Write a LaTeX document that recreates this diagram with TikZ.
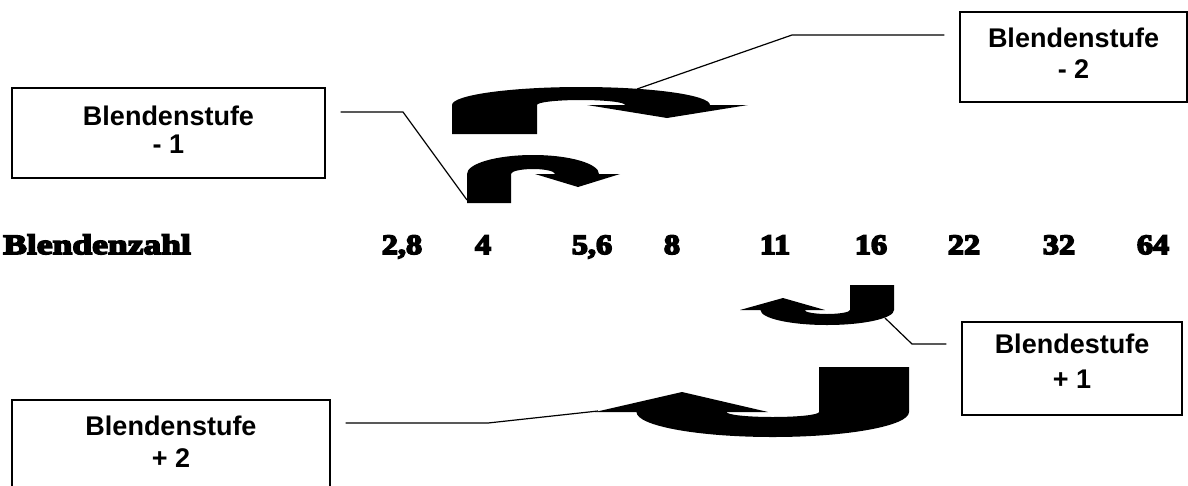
\documentclass[tikz,border=0pt]{standalone}
\usepackage{fontspec}
\setmainfont{Liberation Sans}
\newfontfamily\numfont{Liberation Serif Bold}[FakeBold=6,FakeStretch=1.15]
\newfontfamily\wordfont{Liberation Serif Bold}[FakeBold=6,FakeStretch=1.27]
\usetikzlibrary{calc}
\begin{document}
\begin{tikzpicture}[x=1pt,y=-1pt,
  box/.style={draw=black,line width=1.3pt,inner sep=0pt,fill=white},
  boxtext/.style={anchor=base,inner sep=0pt,font=\fontsize{27}{30}\selectfont\bfseries},
  numtext/.style={anchor=base,inner sep=0pt,font=\fontsize{28}{30}\selectfont\numfont},
  leader/.style={draw=black,line width=1.2pt},
  curved/.style={fill=black,draw=none}]
\useasboundingbox (0,0) rectangle (1188,485);

% boxes
\node[box,minimum width=313pt,minimum height=90pt] (bm1) at (168.5,133) {};
\node[box,minimum width=227pt,minimum height=90pt] (bm2) at (1073.5,57) {};
\node[box,minimum width=220pt,minimum height=93pt] (bp1) at (1072,368.5) {};
\node[box,minimum width=318pt,minimum height=90pt] (bp2) at (171,445) {};

\node[boxtext] (tm1a) at (168.5,125) {Blendenstufe};
\node[boxtext] (tm1b) at (168.5,153) {- 1};
\node[boxtext] (tm2a) at (1073.5,47) {Blendenstufe};
\node[boxtext] (tm2b) at (1073.5,78) {- 2};
\node[boxtext] (tp1a) at (1072,353) {Blendestufe};
\node[boxtext] (tp1b) at (1072,388) {+ 1};
\node[boxtext] (tp2a) at (171,435) {Blendenstufe};
\node[boxtext] (tp2b) at (171,467) {+ 2};

% numbers row
\node[numtext,anchor=base west,font=\fontsize{28}{30}\selectfont\wordfont] (bz) at (3,254) {Blendenzahl};
\node[numtext] (n28) at (402,254) {2,8};
\node[numtext] (n4) at (483,254) {4};
\node[numtext] (n56) at (592,254) {5,6};
\node[numtext] (n8) at (672,254) {8};
\node[numtext] (n11) at (775,254) {11};
\node[numtext] (n16) at (871,254) {16};
\node[numtext] (n22) at (964,254) {22};
\node[numtext] (n32) at (1059,254) {32};
\node[numtext] (n64) at (1153,254) {64};

% curved arrow -2 (big, top)
\path[curved] (452,134) -- (452,105)
  .. controls (452,95.1) and (509.8,87) .. (581,87)
  .. controls (652.2,87) and (710,95.1) .. (710,105)
  -- (748,105) -- (667,118) -- (587,105) -- (625,105)
  .. controls (625,102.2) and (605.3,100) .. (581,100)
  .. controls (556.7,100) and (537,102.2) .. (537,105)
  -- (537,134) -- cycle;
% curved arrow -1 (small, top)
\path[curved] (467,203) -- (467,174)
  .. controls (467,163.5) and (496.6,155) .. (533,155)
  .. controls (569.4,155) and (599,163.5) .. (599,174)
  -- (620,174) -- (578,187) -- (535,174) -- (555,174)
  .. controls (555,171.2) and (545.1,169) .. (533,169)
  .. controls (520.9,169) and (511,171.2) .. (511,174)
  -- (511,203) -- cycle;
% curved arrow +1 (small, bottom)
\path[curved] (894,285) -- (894,310)
  .. controls (894,318.3) and (864,325) .. (827,325)
  .. controls (790,325) and (760.5,318.3) .. (760.5,310)
  -- (740,310) -- (783,298) -- (825,310) -- (804.5,310)
  .. controls (804.5,312.2) and (814.7,314) .. (827,314)
  .. controls (839.3,314) and (850,312.2) .. (850,310)
  -- (850,285) -- cycle;
% curved arrow +2 (big, bottom)
\path[curved] (909,367) -- (909,412)
  .. controls (909,425.8) and (848,437) .. (772.75,437)
  .. controls (697.5,437) and (636.5,425.8) .. (636.5,412)
  -- (595,412) -- (682,392) -- (768,412) -- (726.5,412)
  .. controls (726.5,414.8) and (747.2,417) .. (772.75,417)
  .. controls (798.3,417) and (819,414.8) .. (819,412)
  -- (819,367) -- cycle;

% leader coordinates
\coordinate (am1) at (467,200);
\coordinate (am2) at (637,89);
\coordinate (ap1) at (885,318);
\coordinate (ap2) at (598,411);
\coordinate (km1a) at ($(bm1.east)+(15,-21)$);
\coordinate (km1b) at (403,112);
\coordinate (km2a) at ($(bm2.west)+(-15,-22)$);
\coordinate (km2b) at (792,35);
\coordinate (kp1a) at ($(bp1.west)+(-15,-24.5)$);
\coordinate (kp1b) at (912,344);
\coordinate (kp2a) at ($(bp2.east)+(15,-22)$);
\coordinate (kp2b) at (488,423);

\draw[leader] (km1a) -- (km1b) -- (am1);
\draw[leader] (km2a) -- (km2b) -- (am2);
\draw[leader] (kp1a) -- (kp1b) -- (ap1);
\draw[leader] (kp2a) -- (kp2b) -- (ap2);
\end{tikzpicture}
\end{document}
